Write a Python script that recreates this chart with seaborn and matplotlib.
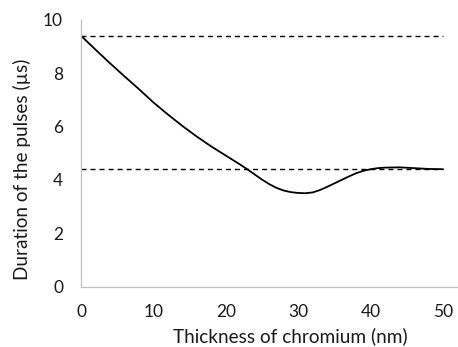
import numpy as np
import pandas as pd
import seaborn as sns
import matplotlib.pyplot as plt

# data
thickness_nm = [0, 2, 4, 6, 8, 10, 12, 14, 16, 18, 20, 21, 22, 23, 24, 25,
                26, 27, 28, 29, 30, 31, 32, 33, 34, 35, 36, 37, 38, 39, 40,
                41, 42, 44, 46, 48, 50]
duration_us = [9.40, 8.88, 8.37, 7.88, 7.40, 6.90, 6.45, 6.02, 5.62, 5.25,
               4.91, 4.74, 4.57, 4.39, 4.20, 4.01, 3.84, 3.70, 3.60, 3.54,
               3.51, 3.50, 3.53, 3.62, 3.74, 3.87, 4.00, 4.13, 4.25, 4.34,
               4.40, 4.44, 4.46, 4.47, 4.44, 4.41, 4.40]
ref_levels = [9.4, 4.4]
x_ticks = [0, 10, 20, 30, 40, 50]
y_ticks = [0, 2, 4, 6, 8, 10]

df = pd.DataFrame({'thickness': thickness_nm, 'duration': duration_us})

sns.set_style("white")
plt.rcParams['font.family'] = ['Lato', 'DejaVu Sans']

fig = plt.figure(figsize=(4.58, 3.47), dpi=100)
ax = fig.add_axes([0.177, 0.174, 0.822, 0.769])

# dashed reference levels
for lvl in ref_levels:
    ax.plot([x_ticks[0], x_ticks[-1]], [lvl, lvl], color='black', lw=1.0,
            dashes=(3.6, 2.9))

sns.lineplot(data=df, x='thickness', y='duration', color='black',
             linewidth=1.3, ax=ax)

ax.set_xlim(0, 52)
ax.set_ylim(0, 10)
ax.set_xticks(x_ticks)
ax.set_yticks(y_ticks)

grey = '#bfbfbf'
for side in ['top', 'right']:
    ax.spines[side].set_visible(False)
for side in ['left', 'bottom']:
    ax.spines[side].set_color(grey)
    ax.spines[side].set_linewidth(0.9)

ax.tick_params(direction='in', length=3.6, width=0.8, color=grey,
               labelsize=12.5, labelcolor='#1a1a1a')
ax.tick_params(axis='y', pad=13)
ax.tick_params(axis='x', pad=12.5)

ax.set_xlabel('Thickness of chromium (nm)', fontsize=13.7, color='#1a1a1a')
ax.set_ylabel('Duration of the pulses (µs)', fontsize=13.7, color='#1a1a1a')
ax.xaxis.label.set_va('baseline')
ax.xaxis.set_label_coords(0.555, -0.207)
ax.yaxis.label.set_va('center')
ax.yaxis.set_label_coords(-0.158, 0.44)

fig.savefig('out.png', dpi=100)
